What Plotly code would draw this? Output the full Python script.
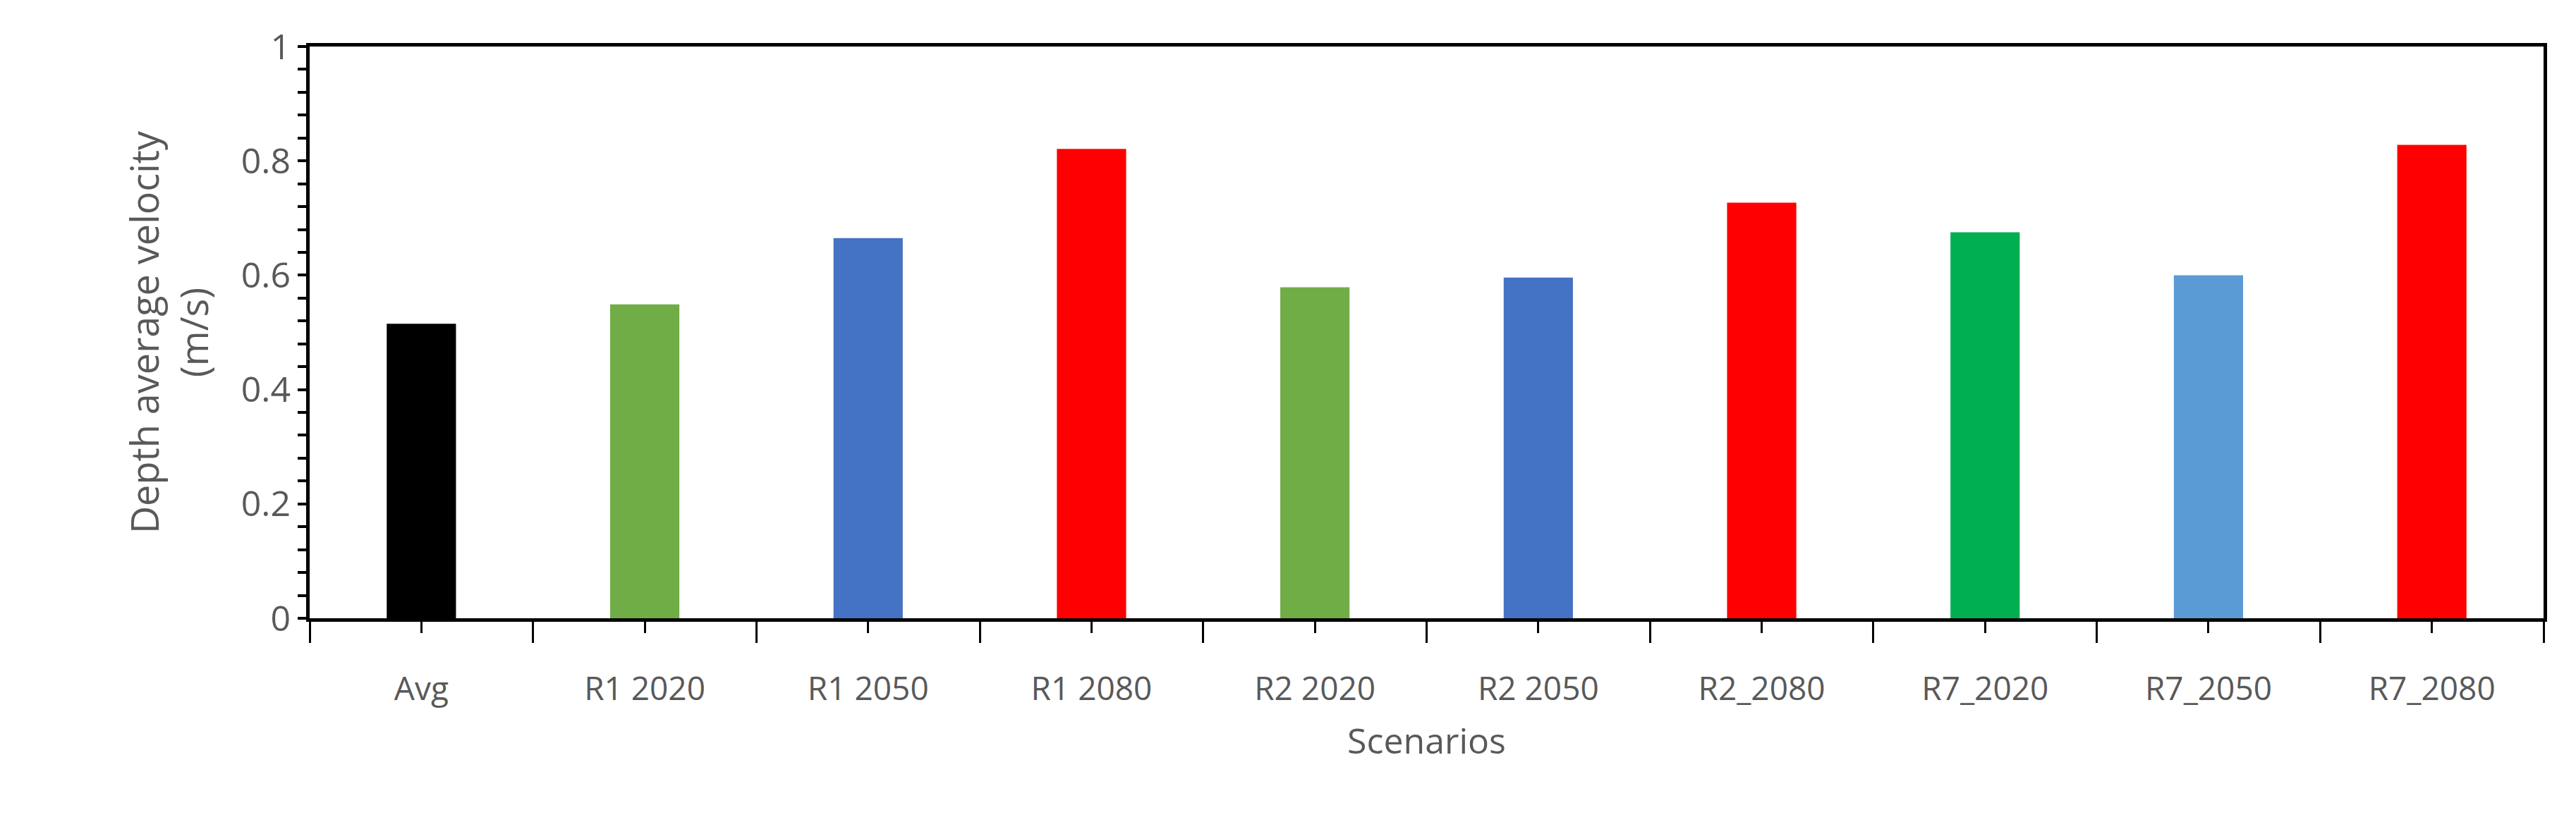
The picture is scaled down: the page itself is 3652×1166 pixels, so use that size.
import plotly.graph_objects as go

scenarios = ["Avg", "R1 2020", "R1 2050", "R1 2080", "R2 2020",
             "R2 2050", "R2_2080", "R7_2020", "R7_2050", "R7_2080"]
velocity = [0.515, 0.549, 0.665, 0.821, 0.579, 0.596, 0.727, 0.675, 0.600, 0.828]
colors = ["#000000", "#70AD47", "#4472C4", "#FF0000", "#70AD47",
          "#4472C4", "#FF0000", "#00B050", "#5B9BD5", "#FF0000"]

pos = list(range(len(scenarios)))

fig = go.Figure()
fig.add_trace(go.Bar(x=pos, y=velocity, marker_color=colors, marker_line_width=0, width=0.31))

font = dict(family="Open Sans", color="#595959")
fig.update_layout(
    width=3652, height=1166,
    margin=dict(l=431, r=54, t=58, b=297),
    plot_bgcolor="white", paper_bgcolor="white",
    showlegend=False,
    font=font,
)
fig.update_xaxes(
    range=[-0.5, len(scenarios) - 0.5],
    tickvals=pos, ticktext=scenarios,
    ticks="outside", ticklen=16, tickwidth=3, tickcolor="black",
    tickfont=dict(size=46, **font), ticklabelstandoff=40,
    minor=dict(tick0=-0.5, dtick=1, ticks="outside", ticklen=30, tickwidth=3, tickcolor="black"),
    showline=True, linecolor="black", linewidth=5, mirror=True,
    title=dict(text="Scenarios", font=dict(size=50, **font), standoff=30),
)
fig.update_yaxes(
    range=[0, 1], dtick=0.2, tickformat="~g",
    ticks="outside", ticklen=12, tickwidth=4, tickcolor="black",
    tickfont=dict(size=50, **font),
    minor=dict(dtick=0.04, ticks="outside", ticklen=12, tickwidth=4, tickcolor="black"),
    showgrid=False, zeroline=False,
    showline=True, linecolor="black", linewidth=5, mirror=True,
    title=dict(text="Depth average velocity<br>(m/s)", font=dict(size=54, **font), standoff=30),
)

fig.write_html("out.html")
